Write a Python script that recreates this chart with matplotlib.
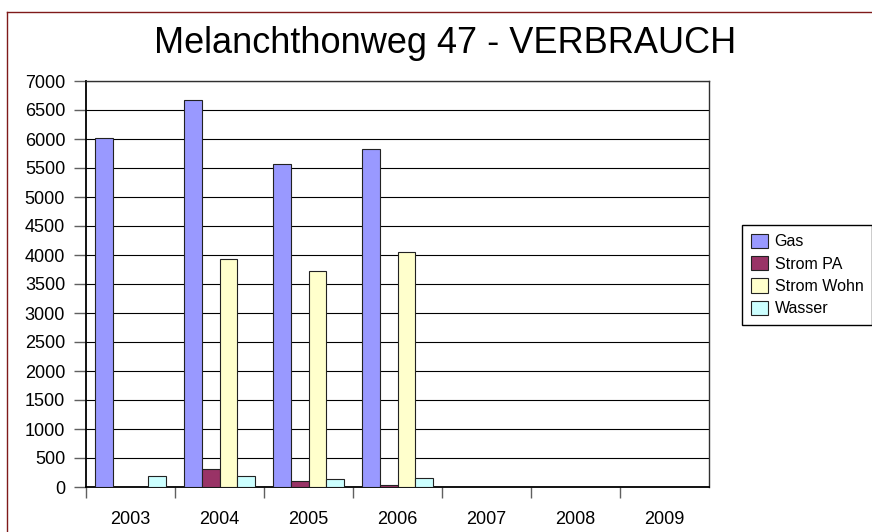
import numpy as np
import matplotlib.pyplot as plt
from matplotlib.lines import Line2D

plt.rcParams["font.family"] = ["Liberation Sans", "DejaVu Sans"]

# Verbrauch pro Jahr
years = ["2003", "2004", "2005", "2006", "2007", "2008", "2009"]
gas = [6020, 6680, 5575, 5820, np.nan, np.nan, np.nan]
strom_pa = [np.nan, 310, 110, 30, np.nan, np.nan, np.nan]
strom_wohn = [np.nan, 3930, 3720, 4050, np.nan, np.nan, np.nan]
wasser = [185, 190, 130, 160, np.nan, np.nan, np.nan]

series_names = ["Gas", "Strom PA", "Strom Wohn", "Wasser"]
series_colors = ["#9999FF", "#993366", "#FFFFCC", "#CCFFFF"]
y_ticks = list(range(0, 7001, 500))

W, H = 872, 532
fig = plt.figure(figsize=(W / 100, H / 100), dpi=100)

# plot area in pixels: left 86, right 709, top 81, bottom 487
ax = fig.add_axes([86 / W, 1 - 487 / H, 623 / W, 406 / H])

x = np.arange(len(years))
bar_w = 0.2
for k, (vals, name, col) in enumerate(zip([gas, strom_pa, strom_wohn, wasser],
                                          series_names, series_colors)):
    ax.bar(x + (k - 1.5) * bar_w, vals, width=bar_w, color=col,
           edgecolor="#222222", linewidth=0.8, label=name, zorder=3)

ax.set_xlim(-0.5, len(years) - 0.5)
ax.set_ylim(0, 7000)
ax.set_yticks(y_ticks)
ax.yaxis.grid(True, color="black", linewidth=0.8)
ax.set_axisbelow(True)

# category boundaries as tick marks, labels centred in between
ax.set_xticks(np.arange(len(years)) - 0.5)
ax.set_xticklabels([])
ax.set_xticks(x, minor=True)
ax.set_xticklabels(years, minor=True)
ax.tick_params(axis="x", which="major", length=8, width=1, color="#606060")
ax.tick_params(axis="x", which="minor", length=0, labelsize=13, pad=17)
ax.tick_params(axis="y", length=8.5, width=1, color="#606060",
               labelsize=13, pad=6.5)

for side in ["left", "bottom"]:
    ax.spines[side].set_color("black")
    ax.spines[side].set_linewidth(1.3)
for side in ["top", "right"]:
    ax.spines[side].set_color("#303030")
    ax.spines[side].set_linewidth(1)

fig.text(445 / W, 1 - 53 / H, "Melanchthonweg 47 - VERBRAUCH",
         ha="center", va="baseline", fontsize=26)

leg = ax.legend(loc="upper left", bbox_to_anchor=(742 / W, 1 - 225 / H),
                bbox_transform=fig.transFigure, borderaxespad=0,
                fontsize=11.5, frameon=True, fancybox=False,
                handlelength=1.1, handleheight=1.0, handletextpad=0.4,
                labelspacing=0.42, borderpad=0.55)
leg.get_frame().set_edgecolor("black")
leg.get_frame().set_linewidth(1)
leg.get_frame().set_alpha(1)

# outer chart border (cut off at right and bottom)
fig.add_artist(Line2D([7.3 / W, 7.3 / W], [0, 1 - 11.7 / H],
                      transform=fig.transFigure, color="#7F1A1A", linewidth=1))
fig.add_artist(Line2D([7.3 / W, 1], [1 - 11.7 / H, 1 - 11.7 / H],
                      transform=fig.transFigure, color="#7F1A1A", linewidth=1))

fig.savefig("out.png", dpi=100)
